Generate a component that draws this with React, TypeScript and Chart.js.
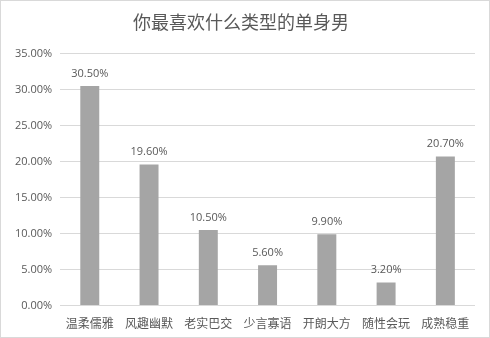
import React, { useEffect, useRef } from "react";
import { Chart, registerables } from "chart.js";

Chart.register(...registerables);

const TITLE = "你最喜欢什么类型的单身男";
const categories = ["温柔儒雅", "风趣幽默", "老实巴交", "少言寡语", "开朗大方", "随性会玩", "成熟稳重"];
const values = [30.5, 19.6, 10.5, 5.6, 9.9, 3.2, 20.7];

const FONT = "'Open Sans', 'Noto Sans CJK SC', sans-serif";
const TEXT = "#595959";

const dataLabels = {
  id: "dataLabels",
  afterDatasetsDraw(chart: any) {
    const ctx = chart.ctx;
    const meta = chart.getDatasetMeta(0);
    ctx.save();
    ctx.font = `11px ${FONT}`;
    ctx.fillStyle = TEXT;
    ctx.textAlign = "center";
    ctx.textBaseline = "bottom";
    meta.data.forEach((bar: any, i: number) => {
      ctx.fillText(values[i].toFixed(2) + "%", bar.x, bar.y - 7);
    });
    ctx.restore();
  },
};

export default function App() {
  const ref = useRef<HTMLCanvasElement>(null);
  useEffect(() => {
    const chart = new Chart(ref.current!, {
      type: "bar",
      data: {
        labels: categories,
        datasets: [
          {
            data: values,
            backgroundColor: "#a5a5a5",
            barPercentage: 0.64,
            categoryPercentage: 0.5,
          },
        ],
      },
      options: {
        animation: false,
        responsive: false,
        layout: { padding: { left: 6, right: 14, top: 4, bottom: 1 } },
        plugins: {
          legend: { display: false },
          tooltip: { enabled: false },
          title: {
            display: true,
            text: TITLE,
            color: TEXT,
            font: { family: FONT, size: 18, weight: "normal" },
            padding: { top: 8, bottom: 19 },
          },
        },
        scales: {
          x: {
            grid: { display: false },
            border: { display: false },
            ticks: { color: TEXT, font: { family: FONT, size: 12 }, maxRotation: 0, padding: 4 },
          },
          y: {
            min: 0,
            max: 35,
            ticks: {
              stepSize: 5,
              color: TEXT,
              font: { family: FONT, size: 11 },
              padding: 8,
              callback: (v: any) => Number(v).toFixed(2) + "%",
            },
            grid: { color: "#d9d9d9", drawTicks: false },
            border: { display: false },
          },
        },
      },
      plugins: [dataLabels],
    });
    return () => chart.destroy();
  }, []);
  return (
    <div style={{ position: "fixed", left: 0, top: 0, width: 490, height: 338, boxSizing: "border-box", border: "1px solid #d9d9d9", background: "#fff" }}>
      <canvas ref={ref} width={488} height={336} />
    </div>
  );
}
